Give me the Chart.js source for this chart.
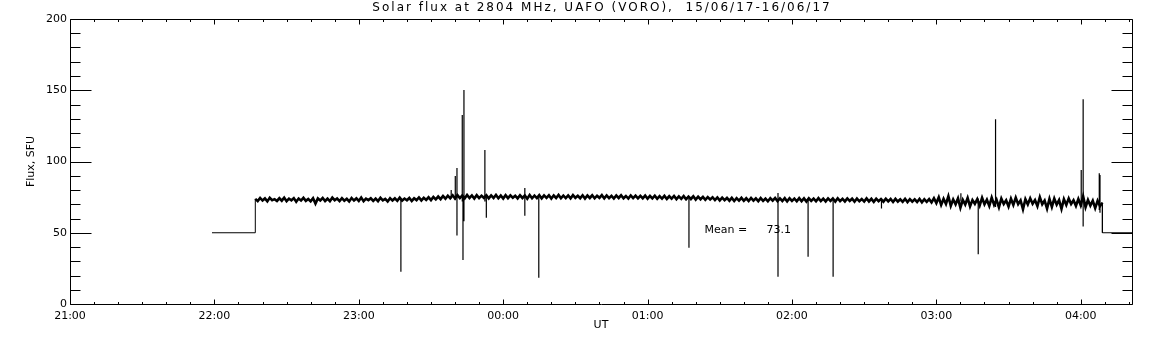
<!DOCTYPE html>
<html>
<head>
<meta charset="utf-8">
<title>Solar flux at 2804 MHz</title>
<script src="https://cdn.jsdelivr.net/npm/chart.js@4.4.1/dist/chart.umd.min.js"></script>
<style>
  html, body { margin: 0; padding: 0; background: #fff; }
  #wrap { width: 1152px; height: 345px; }
</style>
</head>
<body>
<div id="wrap"><canvas id="fluxChart" width="1152" height="345"></canvas></div>
<script>
// time is in minutes after 21:00 UT (15/06/17)
const axisEndMinute = 441.3;
const hourLabels = ['21:00', '22:00', '23:00', '00:00', '01:00', '02:00', '03:00', '04:00'];
const fluxTicks = [0, 50, 100, 150, 200];
const titleText = 'Solar flux at 2804 MHz, UAFO (VORO),  15/06/17-16/06/17';

// calibration level before / after the observation
const preMinutes = [59, 77];
const preFlux = [50, 50];
const postMinutes = [429, axisEndMinute];
const postFlux = [50, 50];

// one reading per minute from 22:17 to 04:09
const bandStart = 77;
const bandFlux = [
  73.8, 72.2, 74.4, 72.6, 74.1, 72.0, 74.5, 72.9, 73.6, 72.3,
  74.2, 72.5, 74.6, 72.1, 73.9, 72.8, 74.3, 71.8, 74.0, 72.6,
  74.5, 72.4, 73.7, 72.0, 74.2, 70.5, 74.1, 72.7, 74.4, 72.3,
  73.9, 72.1, 74.6, 72.8, 74.0, 72.2, 74.3, 72.5, 73.8, 72.0,
  74.4, 72.6, 74.1, 72.3, 74.7, 72.1, 73.9, 72.9, 74.2, 72.4,
  74.0, 72.2, 74.5, 72.7, 73.8, 72.0, 74.3, 72.6, 74.1, 72.4,
  74.6, 72.5, 74.0, 72.8, 74.4, 72.3, 74.2, 72.9, 74.8, 72.7,
  74.5, 73.0, 74.9, 72.9, 75.1, 73.4, 75.4, 73.6, 75.8, 73.9,
  76.0, 74.2, 76.3, 74.0, 76.4, 74.3, 76.1, 74.1, 76.5, 74.4,
  76.2, 74.0, 76.4, 74.3, 76.0, 74.5, 76.3, 74.1, 76.2, 74.4,
  76.5, 74.2, 76.1, 74.0, 76.4, 74.3, 76.2, 74.6, 76.0, 74.1,
  76.3, 74.4, 76.1, 73.9, 76.5, 74.2, 76.0, 74.3, 76.4, 74.1,
  76.2, 74.5, 76.3, 74.0, 76.1, 74.4, 76.5, 74.2, 76.0, 74.3,
  76.2, 74.1, 76.4, 74.5, 75.9, 74.2, 76.3, 74.0, 76.1, 74.4,
  76.3, 74.2, 76.0, 74.5, 76.4, 74.1, 76.2, 74.3, 75.9, 74.0,
  76.1, 74.4, 76.3, 74.2, 75.8, 74.0, 76.2, 74.3, 76.0, 74.1,
  75.9, 74.2, 76.1, 73.9, 75.8, 74.1, 76.0, 73.8, 75.7, 74.0,
  75.9, 73.7, 75.6, 73.9, 75.8, 73.6, 75.5, 73.8, 75.7, 73.5,
  75.4, 73.7, 75.6, 73.3, 75.3, 73.5, 75.2, 73.1, 75.0, 73.4,
  74.9, 72.9, 74.8, 72.7, 74.6, 72.8, 74.4, 72.5, 74.5, 72.3,
  74.3, 72.6, 74.5, 72.4, 74.2, 72.3, 74.4, 72.5, 74.1, 72.2,
  74.3, 72.4, 74.0, 72.1, 74.2, 72.5, 74.4, 72.2, 74.1, 72.3,
  74.3, 72.0, 74.2, 72.4, 74.0, 72.1, 74.3, 72.2, 74.1, 71.9,
  74.2, 72.3, 74.0, 72.1, 74.3, 72.2, 73.9, 72.0, 74.1, 72.3,
  74.0, 71.9, 74.2, 72.2, 73.8, 72.0, 74.1, 72.3, 73.9, 71.8,
  74.0, 72.1, 73.7, 71.9, 74.1, 72.0, 73.8, 71.7, 73.9, 72.1,
  73.6, 71.8, 73.9, 72.0, 73.7, 71.6, 73.8, 71.9, 73.5, 71.7,
  73.8, 71.5, 73.6, 71.8, 73.4, 71.6, 73.7, 71.4, 73.5, 71.7,
  73.6, 71.3, 74.2, 70.8, 74.9, 69.5, 73.8, 70.2, 75.6, 68.9,
  73.4, 70.0, 74.1, 67.6, 73.0, 69.8, 74.4, 68.5, 72.9, 70.3,
  73.6, 69.1, 74.5, 70.0, 73.2, 68.8, 74.7, 69.6, 73.1, 67.9,
  74.0, 70.2, 72.8, 68.4, 73.9, 69.5, 74.6, 70.1, 72.7, 66.5,
  73.5, 69.9, 74.2, 70.4, 73.0, 68.7, 75.0, 70.0, 72.6, 67.0,
  73.8, 68.2, 74.0, 69.7, 72.9, 66.8, 73.6, 69.5, 74.1, 70.2,
  72.8, 68.9, 73.7, 69.3, 75.5, 68.0, 73.0, 69.0, 72.5, 67.3,
  72.4, 68.6, 71.0
];

// short bursts / interference spikes
const spikeMinutes = [137.5, 158.4, 160.1, 160.8, 163.0, 163.3, 163.7, 172.4, 173.0, 189.0,
                      194.8, 257.2, 294.2, 306.7, 317.1, 337.2, 370.2, 377.4, 384.6, 420.2,
                      421.0, 427.7, 428.0];
const spikeLow  = [22.7, 74, 73, 48, 72, 30.9, 58, 72, 60.6, 62,
                   18.5, 39.5, 19.2, 33.2, 19.2, 67, 72, 34.9, 68, 68,
                   54.3, 66, 64];
const spikeHigh = [74, 80, 89.8, 95.4, 132.6, 75, 150.2, 108, 76, 81.4,
                   76, 74, 77.9, 74, 74, 74, 77.7, 74, 129.6, 94,
                   143.6, 91.7, 90.5];

const meanValue = 73.1;

// build the traces: thin calibration steps, thick noisy band
const bandData = bandFlux.map((v, i) => ({ x: bandStart + i, y: v }));
const preData = preMinutes.map((m, i) => ({ x: m, y: preFlux[i] }));
preData.push(bandData[0]);
const postData = [bandData[bandData.length - 1]];
postMinutes.forEach((m, i) => postData.push({ x: m, y: postFlux[i] }));

// each spike is a separate vertical segment (null breaks the line)
const spikes = [];
spikeMinutes.forEach((m, i) => {
  spikes.push({ x: m, y: spikeLow[i] }, { x: m, y: spikeHigh[i] }, { x: m, y: null });
});

const font = 'DejaVu Sans';

// IDL style frame with inward ticks on all four sides, title and mean label
const frameTicks = {
  id: 'frameTicks',
  afterDatasetsDraw(chart) {
    const { ctx, chartArea: a, scales: { x, y } } = chart;
    const L = Math.round(a.left) + 0.5, R = Math.round(a.right) + 0.5;
    const T = Math.round(a.top) + 0.5, B = Math.round(a.bottom) + 0.5;
    ctx.save();
    ctx.strokeStyle = '#000';
    ctx.lineWidth = 1;
    ctx.beginPath();
    ctx.rect(L, T, R - L, B - T);
    for (let v = 0; v <= 200; v += 10) {
      const py = Math.round(y.getPixelForValue(v)) + 0.5;
      const len = v % 50 === 0 ? 21 : 10;
      ctx.moveTo(L, py); ctx.lineTo(L + len, py);
      ctx.moveTo(R, py); ctx.lineTo(R - len, py);
    }
    for (let m = 0; m <= x.max; m += 10) {
      const px = Math.round(x.getPixelForValue(m)) + 0.5;
      const len = m % 60 === 0 ? 5 : 2.5;
      ctx.moveTo(px, B); ctx.lineTo(px, B - len);
      ctx.moveTo(px, T); ctx.lineTo(px, T + len);
    }
    ctx.stroke();

    ctx.fillStyle = '#000';
    ctx.textBaseline = 'middle';

    ctx.font = '12px "' + font + '"';
    ctx.textAlign = 'center';
    ctx.letterSpacing = '2px';
    ctx.fillText(titleText, (a.left + a.right) / 2 + 1, 8);
    ctx.letterSpacing = '0px';

    ctx.font = '11px "' + font + '"';
    ctx.textAlign = 'left';
    const my = y.getPixelForValue(52);
    ctx.fillText('Mean =', x.getPixelForValue(263.7), my);
    ctx.fillText(meanValue.toFixed(1), x.getPixelForValue(289.4), my);
    ctx.restore();
  }
};

const lineStyle = { borderColor: '#000', pointRadius: 0, tension: 0, fill: false };

new Chart(document.getElementById('fluxChart'), {
  type: 'line',
  data: {
    datasets: [
      { ...lineStyle, data: preData, borderWidth: 1 },
      { ...lineStyle, data: bandData, borderWidth: 2.6 },
      { ...lineStyle, data: postData, borderWidth: 1 },
      { ...lineStyle, data: spikes, borderWidth: 1.2, spanGaps: false }
    ]
  },
  options: {
    responsive: false,
    animation: false,
    devicePixelRatio: 1,
    layout: { padding: { left: 0, right: 20, top: 19, bottom: 0 } },
    plugins: {
      legend: { display: false },
      tooltip: { enabled: false },
      title: { display: false }
    },
    scales: {
      x: {
        type: 'linear',
        min: 0,
        max: axisEndMinute,
        offset: false,
        grid: { display: false, drawTicks: false },
        border: { display: false },
        ticks: {
          stepSize: 60,
          includeBounds: false,
          autoSkip: false,
          maxRotation: 0,
          padding: 6,
          color: '#000',
          font: { family: font, size: 11 },
          callback: v => hourLabels[v / 60]
        },
        title: {
          display: true,
          text: 'UT',
          color: '#000',
          font: { family: font, size: 11 },
          padding: { top: 0, bottom: 13.4 }
        },
        afterFit: s => { s.height = 41; }
      },
      y: {
        min: 0,
        max: 200,
        grid: { display: false, drawTicks: false },
        border: { display: false },
        ticks: {
          stepSize: 50,
          padding: 3,
          color: '#000',
          font: { family: font, size: 11 },
          callback: v => fluxTicks.includes(v) ? String(v) : ''
        },
        title: {
          display: true,
          text: 'Flux, SFU',
          color: '#000',
          font: { family: font, size: 11 },
          padding: { top: 24.4, bottom: 0 }
        },
        afterFit: s => { s.width = 70; }
      }
    }
  },
  plugins: [frameTicks]
});
</script>
</body>
</html>
